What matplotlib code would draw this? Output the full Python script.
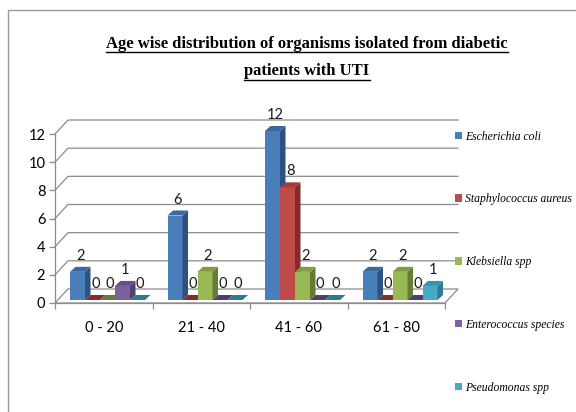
import matplotlib
matplotlib.use("Agg")
import matplotlib.pyplot as plt
from matplotlib.patches import Polygon, Rectangle, Patch
from matplotlib.lines import Line2D
import numpy as np

categories = ["0 - 20", "21 - 40", "41 - 60", "61 - 80"]
series_names = ["Escherichia coli", "Staphylococcus aureus", "Klebsiella spp",
                "Enterococcus species", "Pseudomonas spp"]
e_coli = [2, 6, 12, 2]
staph = [0, 0, 8, 0]
klebsiella = [0, 2, 2, 2]
enterococcus = [1, 0, 0, 0]
pseudomonas = [0, 0, 0, 1]
y_ticks = [0, 2, 4, 6, 8, 10, 12]
title_lines = ["Age wise distribution of organisms isolated from diabetic",
               "patients with UTI"]

series_values = [e_coli, staph, klebsiella, enterococcus, pseudomonas]
front_colors = ["#4A7EBB", "#BE4B48", "#98B954", "#7D60A0", "#46AAC5"]
side_colors = ["#2D5282", "#832D2B", "#667C35", "#523D6D", "#2B7C92"]
top_colors = ["#3A68A0", "#A33E3B", "#7F9C45", "#674E86", "#3A93AB"]

W, H = 576, 412
fig = plt.figure(figsize=(W / 100, H / 100), dpi=100)

# outer chart border (only left and top visible)
fig.patches.append(Rectangle((8 / W, -0.1), 1.2, (H - 10) / H + 0.1,
                             transform=fig.transFigure, fill=False,
                             edgecolor="#9A9A9A", linewidth=1.0))

ax_left, ax_right, ax_top, ax_bot = 55, 445, 134, 303
ax = fig.add_axes([ax_left / W, (H - ax_bot) / H, (ax_right - ax_left) / W,
                   (ax_bot - ax_top) / H])
ax.set_xlim(-0.5, 3.5)
ax.set_ylim(0, 12)
ax.patch.set_visible(False)

px_x = (ax_right - ax_left) / 4.0
px_y = (ax_bot - ax_top) / 12.0

# wall depth and bar depth (pixels -> data)
wdx, wdy = 13 / px_x, 14 / px_y
bdx, bdy = 5.5 / px_x, 5 / px_y
base = 3 / px_y

grid_c = "#8C8C8C"
# back wall grid lines
for v in y_ticks:
    if v == 0:
        continue
    ax.plot([-0.5, -0.5 + wdx, 3.5 + wdx], [v, v + wdy, v + wdy],
            color=grid_c, lw=0.9, clip_on=False, zorder=1)
# floor
floor = Polygon([(-0.5, 0), (3.5, 0), (3.5 + wdx, wdy), (-0.5 + wdx, wdy)],
                closed=True, facecolor="white", edgecolor=grid_c, lw=0.9,
                clip_on=False, zorder=1)
ax.add_patch(floor)

bar_w = 15 / px_x
start = 15 / px_x
x_idx = np.arange(len(categories))
z = 3
for i in range(len(categories)):
    for j, vals in enumerate(series_values):
        left = -0.5 + i + start + j * bar_w
        h = vals[i]
        z += 1
        ax.bar(left, h, width=bar_w, bottom=base, align="edge",
               color=front_colors[j], edgecolor="none", zorder=z, clip_on=False)
        top = base + h
        side = Polygon([(left + bar_w, base), (left + bar_w + bdx, base + bdy),
                        (left + bar_w + bdx, top + bdy), (left + bar_w, top)],
                       closed=True, facecolor=side_colors[j], edgecolor="none",
                       zorder=z, clip_on=False)
        ax.add_patch(side)
        topf = Polygon([(left, top), (left + bar_w, top),
                        (left + bar_w + bdx, top + bdy), (left + bdx, top + bdy)],
                       closed=True, facecolor=top_colors[j] if h > 0 else side_colors[j],
                       edgecolor="none", zorder=z, clip_on=False)
        ax.add_patch(topf)
        ax.annotate(str(h), (left + bar_w / 2 + bdx / 2, top), xytext=(0, 11.5),
                    textcoords="offset points", ha="center", va="center",
                    fontsize=10.5, family="Lato", color="#1A1A1A",
                    annotation_clip=False, zorder=50)

# spines and ticks
for s in ["top", "right"]:
    ax.spines[s].set_visible(False)
for s in ["left", "bottom"]:
    ax.spines[s].set_color(grid_c)
    ax.spines[s].set_linewidth(0.9)
ax.set_yticks(y_ticks)
ax.set_yticklabels([str(v) for v in y_ticks], family="Lato", fontsize=10.5)
ax.tick_params(axis="y", length=4, width=0.9, color=grid_c, pad=3)
ax.set_xticks([-0.5, 0.5, 1.5, 2.5, 3.5])
ax.set_xticklabels([])
ax.set_xticks(x_idx, minor=True)
ax.set_xticklabels(categories, minor=True, family="Lato", fontsize=10.5)
ax.tick_params(axis="x", which="major", length=4, width=0.9, color=grid_c)
ax.tick_params(axis="x", which="minor", length=0, pad=13)

# title with underline
t1 = fig.text(307 / W, 1 - 44 / H, title_lines[0], ha="center", va="center",
              family="Liberation Serif", fontweight="bold", fontsize=12)
t2 = fig.text(307 / W, 1 - 71 / H, title_lines[1], ha="center", va="center",
              family="Liberation Serif", fontweight="bold", fontsize=12)
fig.canvas.draw()
for t, uy in [(t1, 52), (t2, 79.5)]:
    bb = t.get_window_extent()
    fig.lines.append(Line2D([bb.x0 / W, bb.x1 / W], [1 - uy / H, 1 - uy / H],
                            transform=fig.transFigure, color="black", lw=1.0))

# legend
handles = [Patch(facecolor=c, edgecolor="none") for c in front_colors]
leg = fig.legend(handles, series_names, loc="upper left",
                 bbox_to_anchor=(455 / W, 1 - 130.5 / H), frameon=False,
                 handlelength=0.6, handleheight=0.6, handletextpad=0.25,
                 labelspacing=4.35, borderpad=0, borderaxespad=0,
                 prop={"family": "Liberation Serif", "style": "italic", "size": 8.4})

fig.savefig("out.png", dpi=100)
